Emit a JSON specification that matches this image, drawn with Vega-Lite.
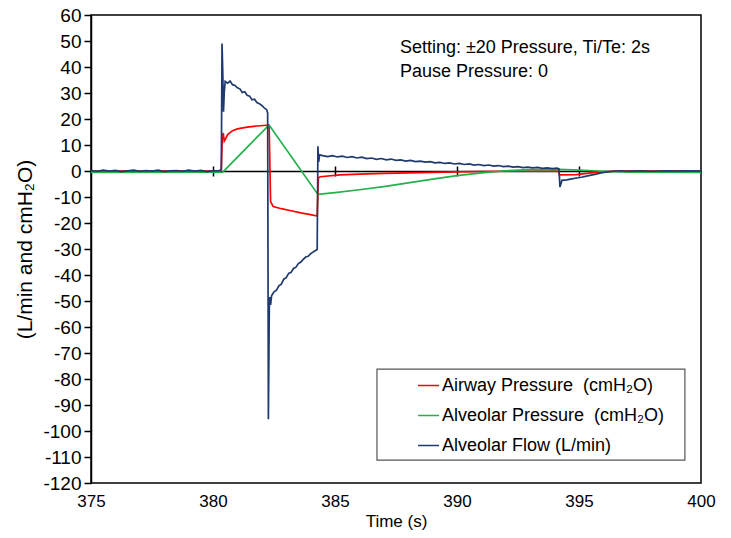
{
  "$schema": "https://vega.github.io/schema/vega-lite/v6.json",
  "width": 610,
  "height": 468,
  "autosize": "none",
  "padding": {"left": 91, "top": 15, "right": 30, "bottom": 55},
  "background": "white",
  "config": {"view": {"stroke": "black", "strokeWidth": 1.5}, "font": "Liberation Sans"},
  "datasets": {
    "one": [{}],
    "series": [
      {"s": "airway", "t": 375, "v": 0},
      {"s": "airway", "t": 380.3, "v": 0},
      {"s": "airway", "t": 380.34, "v": 0.5},
      {"s": "airway", "t": 380.38, "v": 13},
      {"s": "airway", "t": 380.42, "v": 14.6},
      {"s": "airway", "t": 380.46, "v": 11.5},
      {"s": "airway", "t": 380.52, "v": 12.5},
      {"s": "airway", "t": 380.6, "v": 14},
      {"s": "airway", "t": 380.8, "v": 15.5},
      {"s": "airway", "t": 381.0, "v": 16.2},
      {"s": "airway", "t": 381.4, "v": 16.9},
      {"s": "airway", "t": 381.8, "v": 17.3},
      {"s": "airway", "t": 382.2, "v": 17.6},
      {"s": "airway", "t": 382.3, "v": 17.6},
      {"s": "airway", "t": 382.36, "v": -11.8},
      {"s": "airway", "t": 382.47, "v": -13.7},
      {"s": "airway", "t": 382.8, "v": -14.5},
      {"s": "airway", "t": 383.2, "v": -15.3},
      {"s": "airway", "t": 383.6, "v": -16.1},
      {"s": "airway", "t": 384.0, "v": -16.8},
      {"s": "airway", "t": 384.27, "v": -17.3},
      {"s": "airway", "t": 384.32, "v": -2.6},
      {"s": "airway", "t": 384.4, "v": -2.2},
      {"s": "airway", "t": 385.2, "v": -1.5},
      {"s": "airway", "t": 386, "v": -1.2},
      {"s": "airway", "t": 387, "v": -0.9},
      {"s": "airway", "t": 388, "v": -0.7},
      {"s": "airway", "t": 389, "v": -0.5},
      {"s": "airway", "t": 390, "v": -0.3},
      {"s": "airway", "t": 391, "v": -0.2},
      {"s": "airway", "t": 392, "v": -0.1},
      {"s": "airway", "t": 394.15, "v": 0},
      {"s": "airway", "t": 394.2, "v": -1.5},
      {"s": "airway", "t": 394.9, "v": -1.4},
      {"s": "airway", "t": 395.4, "v": -0.8},
      {"s": "airway", "t": 396, "v": -0.3},
      {"s": "airway", "t": 396.5, "v": 0},
      {"s": "airway", "t": 400, "v": 0},

      {"s": "alveolar", "t": 375, "v": -0.5},
      {"s": "alveolar", "t": 380.4, "v": -0.4},
      {"s": "alveolar", "t": 382.3, "v": 17.7},
      {"s": "alveolar", "t": 384.3, "v": -9},
      {"s": "alveolar", "t": 385, "v": -8.3},
      {"s": "alveolar", "t": 386, "v": -7.2},
      {"s": "alveolar", "t": 387, "v": -6.0},
      {"s": "alveolar", "t": 388, "v": -4.6},
      {"s": "alveolar", "t": 389, "v": -3.1},
      {"s": "alveolar", "t": 390, "v": -1.8},
      {"s": "alveolar", "t": 391, "v": -0.7},
      {"s": "alveolar", "t": 392, "v": 0.1},
      {"s": "alveolar", "t": 393, "v": 0.5},
      {"s": "alveolar", "t": 394.2, "v": 0.6},
      {"s": "alveolar", "t": 395, "v": 0.3},
      {"s": "alveolar", "t": 396, "v": -0.1},
      {"s": "alveolar", "t": 397, "v": -0.4},
      {"s": "alveolar", "t": 400, "v": -0.5},

      {"s": "flow", "t": 375, "v": 0.2},
      {"s": "flow", "t": 375.25, "v": -0.1},
      {"s": "flow", "t": 375.5, "v": 0.3},
      {"s": "flow", "t": 375.75, "v": 0},
      {"s": "flow", "t": 376, "v": 0.2},
      {"s": "flow", "t": 376.25, "v": -0.2},
      {"s": "flow", "t": 376.5, "v": 0.1},
      {"s": "flow", "t": 376.75, "v": 0.3},
      {"s": "flow", "t": 377, "v": -0.1},
      {"s": "flow", "t": 377.25, "v": 0.2},
      {"s": "flow", "t": 377.5, "v": 0},
      {"s": "flow", "t": 377.75, "v": 0.3},
      {"s": "flow", "t": 378, "v": -0.2},
      {"s": "flow", "t": 378.25, "v": 0.1},
      {"s": "flow", "t": 378.5, "v": 0.2},
      {"s": "flow", "t": 378.75, "v": -0.1},
      {"s": "flow", "t": 379, "v": 0.3},
      {"s": "flow", "t": 379.25, "v": 0},
      {"s": "flow", "t": 379.5, "v": 0.2},
      {"s": "flow", "t": 379.75, "v": -0.2},
      {"s": "flow", "t": 380, "v": 0.1},
      {"s": "flow", "t": 380.25, "v": 0.2},
      {"s": "flow", "t": 380.34, "v": 0.5},
      {"s": "flow", "t": 380.37, "v": 49},
      {"s": "flow", "t": 380.4, "v": 38},
      {"s": "flow", "t": 380.43, "v": 22.8},
      {"s": "flow", "t": 380.46, "v": 30},
      {"s": "flow", "t": 380.5, "v": 34.5},
      {"s": "flow", "t": 380.6, "v": 33.8},
      {"s": "flow", "t": 380.7, "v": 34.6},
      {"s": "flow", "t": 380.8, "v": 33.2},
      {"s": "flow", "t": 380.9, "v": 32.9},
      {"s": "flow", "t": 381.0, "v": 32.0},
      {"s": "flow", "t": 381.1, "v": 31.6},
      {"s": "flow", "t": 381.2, "v": 30.2},
      {"s": "flow", "t": 381.3, "v": 30.5},
      {"s": "flow", "t": 381.4, "v": 29.1},
      {"s": "flow", "t": 381.5, "v": 28.8},
      {"s": "flow", "t": 381.6, "v": 27.4},
      {"s": "flow", "t": 381.7, "v": 27.6},
      {"s": "flow", "t": 381.8, "v": 26.3},
      {"s": "flow", "t": 381.9, "v": 25.9},
      {"s": "flow", "t": 382.0, "v": 25.2},
      {"s": "flow", "t": 382.1, "v": 24.3},
      {"s": "flow", "t": 382.2, "v": 23.6},
      {"s": "flow", "t": 382.24, "v": 22.3},
      {"s": "flow", "t": 382.27, "v": -95.5},
      {"s": "flow", "t": 382.31, "v": -50},
      {"s": "flow", "t": 382.33, "v": -48.5},
      {"s": "flow", "t": 382.36, "v": -51.5},
      {"s": "flow", "t": 382.4, "v": -48},
      {"s": "flow", "t": 382.5, "v": -46.5},
      {"s": "flow", "t": 382.6, "v": -45.8},
      {"s": "flow", "t": 382.7, "v": -44.2},
      {"s": "flow", "t": 382.8, "v": -43.5},
      {"s": "flow", "t": 382.9, "v": -41.6},
      {"s": "flow", "t": 383.0, "v": -41.0},
      {"s": "flow", "t": 383.1, "v": -39.4},
      {"s": "flow", "t": 383.2, "v": -39.0},
      {"s": "flow", "t": 383.3, "v": -37.5},
      {"s": "flow", "t": 383.4, "v": -37.0},
      {"s": "flow", "t": 383.5, "v": -35.6},
      {"s": "flow", "t": 383.6, "v": -35.0},
      {"s": "flow", "t": 383.7, "v": -34.0},
      {"s": "flow", "t": 383.8, "v": -33.1},
      {"s": "flow", "t": 383.9, "v": -32.8},
      {"s": "flow", "t": 384.0, "v": -31.8},
      {"s": "flow", "t": 384.1, "v": -31.2},
      {"s": "flow", "t": 384.2, "v": -30.6},
      {"s": "flow", "t": 384.27, "v": -30.2},
      {"s": "flow", "t": 384.3, "v": 9.5},
      {"s": "flow", "t": 384.33, "v": 3.5},
      {"s": "flow", "t": 384.37, "v": 6.2},
      {"s": "flow", "t": 384.5, "v": 5.9},
      {"s": "flow", "t": 384.7, "v": 5.5},
      {"s": "flow", "t": 384.9, "v": 5.9},
      {"s": "flow", "t": 385.1, "v": 5.4},
      {"s": "flow", "t": 385.3, "v": 5.7},
      {"s": "flow", "t": 385.5, "v": 5.2},
      {"s": "flow", "t": 385.7, "v": 5.5},
      {"s": "flow", "t": 385.9, "v": 5.0},
      {"s": "flow", "t": 386.1, "v": 5.3},
      {"s": "flow", "t": 386.3, "v": 4.8},
      {"s": "flow", "t": 386.5, "v": 5.0},
      {"s": "flow", "t": 386.7, "v": 4.5},
      {"s": "flow", "t": 386.9, "v": 4.8},
      {"s": "flow", "t": 387.1, "v": 4.3},
      {"s": "flow", "t": 387.3, "v": 4.6},
      {"s": "flow", "t": 387.5, "v": 4.1},
      {"s": "flow", "t": 387.7, "v": 4.3},
      {"s": "flow", "t": 387.9, "v": 3.8},
      {"s": "flow", "t": 388.1, "v": 4.1},
      {"s": "flow", "t": 388.3, "v": 3.6},
      {"s": "flow", "t": 388.5, "v": 3.8},
      {"s": "flow", "t": 388.7, "v": 3.4},
      {"s": "flow", "t": 388.9, "v": 3.6},
      {"s": "flow", "t": 389.1, "v": 3.1},
      {"s": "flow", "t": 389.3, "v": 3.3},
      {"s": "flow", "t": 389.5, "v": 2.9},
      {"s": "flow", "t": 389.7, "v": 3.1},
      {"s": "flow", "t": 389.9, "v": 2.7},
      {"s": "flow", "t": 390.1, "v": 2.9},
      {"s": "flow", "t": 390.3, "v": 2.5},
      {"s": "flow", "t": 390.5, "v": 2.7},
      {"s": "flow", "t": 390.7, "v": 2.3},
      {"s": "flow", "t": 390.9, "v": 2.5},
      {"s": "flow", "t": 391.1, "v": 2.1},
      {"s": "flow", "t": 391.3, "v": 2.3},
      {"s": "flow", "t": 391.5, "v": 1.9},
      {"s": "flow", "t": 391.7, "v": 2.1},
      {"s": "flow", "t": 391.9, "v": 1.7},
      {"s": "flow", "t": 392.1, "v": 1.9},
      {"s": "flow", "t": 392.3, "v": 1.5},
      {"s": "flow", "t": 392.5, "v": 1.7},
      {"s": "flow", "t": 392.7, "v": 1.3},
      {"s": "flow", "t": 392.9, "v": 1.5},
      {"s": "flow", "t": 393.1, "v": 1.2},
      {"s": "flow", "t": 393.3, "v": 1.4},
      {"s": "flow", "t": 393.5, "v": 1.0},
      {"s": "flow", "t": 393.7, "v": 1.2},
      {"s": "flow", "t": 393.9, "v": 0.9},
      {"s": "flow", "t": 394.1, "v": 1.1},
      {"s": "flow", "t": 394.18, "v": 0.8},
      {"s": "flow", "t": 394.22, "v": -6.2},
      {"s": "flow", "t": 394.3, "v": -3.6},
      {"s": "flow", "t": 394.5, "v": -3.4},
      {"s": "flow", "t": 394.7, "v": -3.0},
      {"s": "flow", "t": 394.9, "v": -2.7},
      {"s": "flow", "t": 395.1, "v": -2.4},
      {"s": "flow", "t": 395.3, "v": -2.0},
      {"s": "flow", "t": 395.5, "v": -1.6},
      {"s": "flow", "t": 395.7, "v": -1.2},
      {"s": "flow", "t": 395.9, "v": -0.7},
      {"s": "flow", "t": 396.1, "v": -0.4},
      {"s": "flow", "t": 396.4, "v": -0.1},
      {"s": "flow", "t": 396.7, "v": 0.1},
      {"s": "flow", "t": 397, "v": -0.1},
      {"s": "flow", "t": 397.5, "v": 0.1},
      {"s": "flow", "t": 398, "v": -0.1},
      {"s": "flow", "t": 398.5, "v": 0.1},
      {"s": "flow", "t": 399, "v": 0},
      {"s": "flow", "t": 399.5, "v": 0.1},
      {"s": "flow", "t": 400, "v": 0}
    ]
  },
  "layer": [
    {
      "data": {"name": "one"},
      "mark": {"type": "rect", "fill": "white", "stroke": "#555555", "strokeWidth": 1.2},
      "encoding": {
        "x": {"datum": 386.72, "type": "quantitative", "scale": {"domain": [375, 400], "nice": false},
          "axis": {"orient": "bottom", "offset": -312, "labels": false, "title": null, "domain": true, "domainColor": "black", "domainWidth": 1.5, "ticks": true, "tickSize": 5, "tickColor": "black", "tickWidth": 1.5, "values": [380, 385, 390, 395], "grid": false}},
        "x2": {"datum": 399.34},
        "y": {"datum": -76.2, "type": "quantitative", "scale": {"domain": [-120, 60], "nice": false}, "axis": null},
        "y2": {"datum": -111.2}
      }
    },
    {
      "data": {"name": "series"},
      "mark": {"type": "line", "strokeWidth": 1.7, "clip": true},
      "encoding": {
        "x": {"field": "t", "type": "quantitative", "scale": {"domain": [375, 400], "nice": false},
          "axis": {"orient": "bottom", "domain": false, "ticks": false, "grid": false, "values": [375, 380, 385, 390, 395, 400], "labelFontSize": 17, "labelColor": "black", "labelPadding": 10, "labelFlush": false, "title": "Time (s)", "titleFontSize": 17, "titleFontWeight": "normal", "titleColor": "black", "titlePadding": 4}},
        "y": {"field": "v", "type": "quantitative", "scale": {"domain": [-120, 60], "nice": false},
          "axis": {"values": [-120, -110, -100, -90, -80, -70, -60, -50, -40, -30, -20, -10, 0, 10, 20, 30, 40, 50, 60], "labelExpr": "'' + datum.value", "grid": false, "domainColor": "black", "domainWidth": 1.5, "tickColor": "black", "tickWidth": 1.5, "tickSize": 7, "labelFontSize": 19, "labelColor": "black", "labelPadding": 3, "title": "(L/min and cmH₂O)", "titleFontSize": 21, "titleFontWeight": "normal", "titleColor": "black", "titlePadding": 7}},
        "color": {"field": "s", "type": "nominal",
          "scale": {"domain": ["airway", "alveolar", "flow"], "range": ["#ff0000", "#22b14c", "#1f3a6e"]},
          "legend": {"orient": "none", "legendX": 326, "legendY": 359, "title": null, "symbolType": "stroke", "symbolSize": 441, "symbolStrokeWidth": 1.5, "labelFontSize": 18, "labelColor": "black", "labelLimit": 500, "rowPadding": 9, "labelOffset": 2,
            "labelExpr": "datum.value == 'airway' ? 'Airway Pressure\u00a0 (cmH₂O)' : datum.value == 'alveolar' ? 'Alveolar Pressure\u00a0 (cmH₂O)' : 'Alveolar Flow (L/min)'"}},
        "order": {"field": "t", "type": "quantitative"}
      }
    },
    {
      "data": {"name": "one"},
      "mark": {"type": "text", "align": "left", "baseline": "alphabetic", "fontSize": 18, "lineHeight": 24, "color": "black",
        "text": ["Setting: ±20 Pressure, Ti/Te: 2s", "Pause Pressure: 0"]},
      "encoding": {
        "x": {"datum": 387.66, "type": "quantitative", "scale": {"domain": [375, 400], "nice": false},
          "axis": {"orient": "top", "offset": -156, "labels": false, "title": null, "domain": false, "ticks": true, "tickSize": 5, "tickColor": "black", "tickWidth": 1.5, "values": [380, 385, 390, 395], "grid": false}},
        "y": {"datum": 45.4, "type": "quantitative", "scale": {"domain": [-120, 60], "nice": false}, "axis": null}
      }
    }
  ],
  "resolve": {"axis": {"x": "independent", "y": "independent"}}
}
